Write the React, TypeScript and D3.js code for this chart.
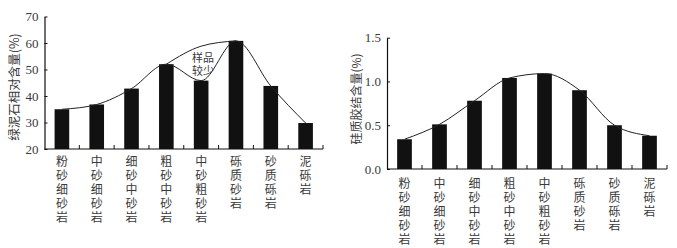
import { useRef, useEffect } from 'react'
import * as d3 from 'd3'

// categories (same for both panels)
const rockTypes = ['粉砂细砂岩', '中砂细砂岩', '细砂中砂岩', '粗砂中砂岩', '中砂粗砂岩', '砾质砂岩', '砂质砾岩', '泥砾岩']

// left panel: chlorite relative content (%)
const chloriteValues = [35, 36.8, 42.8, 52, 45.8, 60.8, 43.8, 29.8]
const chloriteTicks = [20, 30, 40, 50, 60, 70]
// upper trend branch that skips the under-sampled 中砂粗砂岩
const chloriteUpperCats = ['粗砂中砂岩', '中砂粗砂岩', '砾质砂岩']
const chloriteUpperValues = [52, 58.8, 60.8]

// right panel: siliceous cement content (%)
const silicaValues = [0.34, 0.51, 0.78, 1.04, 1.09, 0.9, 0.5, 0.38]
const silicaTicks = [0, 0.5, 1.0, 1.5]

const NUM_FONT = '"Liberation Serif", "Times New Roman", serif'
const CJK_FONT = '"Noto Sans CJK SC", sans-serif'
const TEXT = '#3a3a3a'

type PanelCfg = {
    values: number[]
    ticks: number[]
    domain: [number, number]
    xRange: [number, number]
    yRange: [number, number]
    fmt: (d: number) => string
    title: string
    titleX: number
    titleY: number
    titleSize: number
    labelTop: number
    branch?: { cats: string[]; values: number[] }
}

function drawPanel(root: d3.Selection<SVGGElement, unknown, null, undefined>, cfg: PanelCfg) {
    const x = d3.scaleBand().domain(rockTypes).range(cfg.xRange).padding(0)
    const y = d3.scaleLinear().domain(cfg.domain).range(cfg.yRange)
    const step = x.step()
    const barW = step * 0.42
    const y0 = cfg.yRange[0]

    // bars
    root.selectAll('.bar')
        .data(cfg.values)
        .enter()
        .append('rect')
        .attr('x', (d, i) => x(rockTypes[i])! + step / 2 - barW / 2)
        .attr('y', d => y(d))
        .attr('width', barW)
        .attr('height', d => y0 - y(d))
        .style('fill', '#111')

    // trend curve
    const line = d3.line<[number, number]>()
        .x(d => d[0])
        .y(d => d[1])
        .curve(d3.curveMonotoneX)

    const pts: [number, number][] = cfg.values.map((v, i) => [x(rockTypes[i])! + step / 2, y(v)])
    root.append('path')
        .attr('d', line(pts))
        .style('fill', 'none')
        .style('stroke', '#222')
        .style('stroke-width', 1)

    if (cfg.branch) {
        const bpts: [number, number][] = cfg.branch.values.map((v, i) => [x(cfg.branch!.cats[i])! + step / 2, y(v)])
        root.append('path')
            .attr('d', line(bpts))
            .style('fill', 'none')
            .style('stroke', '#222')
            .style('stroke-width', 1)
    }

    // x axis with upward ticks at band edges
    const xAxis = root.append('g')
    xAxis.append('line')
        .attr('x1', cfg.xRange[0]).attr('x2', cfg.xRange[1])
        .attr('y1', y0).attr('y2', y0)
        .style('stroke', '#111').style('stroke-width', 1.2)
    xAxis.selectAll('.xt')
        .data(rockTypes)
        .enter()
        .append('line')
        .attr('x1', d => x(d)! + step).attr('x2', d => x(d)! + step)
        .attr('y1', y0).attr('y2', y0 - 4)
        .style('stroke', '#111')

    // vertical category labels, one character per row
    rockTypes.forEach(name => {
        const cx = x(name)! + step / 2
        Array.from(name).forEach((ch, j) => {
            root.append('text')
                .attr('x', cx)
                .attr('y', cfg.labelTop + j * 14)
                .attr('text-anchor', 'middle')
                .attr('dominant-baseline', 'central')
                .style('font-family', CJK_FONT)
                .style('font-size', '12px')
                .style('fill', TEXT)
                .text(ch)
        })
    })

    // y axis
    const yAxis = root.append('g')
        .attr('transform', `translate(${cfg.xRange[0]},0)`)
        .call(d3.axisLeft(y).tickValues(cfg.ticks).tickSizeInner(-3).tickSizeOuter(0).tickPadding(6).tickFormat(d => cfg.fmt(+d)))
    yAxis.select('.domain').style('stroke', '#111').style('stroke-width', 1.2)
    yAxis.selectAll('.tick line').style('stroke', '#111')
    yAxis.selectAll('text')
        .style('fill', TEXT)
        .style('font-size', '13px')
        .style('font-family', NUM_FONT)

    // y title
    root.append('text')
        .attr('transform', `translate(${cfg.titleX},${cfg.titleY}) rotate(-90)`)
        .attr('text-anchor', 'middle')
        .attr('dominant-baseline', 'central')
        .style('font-family', CJK_FONT)
        .style('font-size', `${cfg.titleSize}px`)
        .style('fill', TEXT)
        .text(cfg.title)
}

export default function App() {
    const svgRef = useRef<SVGSVGElement | null>(null)

    useEffect(() => {
        if (!svgRef.current) return
        const svg = d3.select(svgRef.current)
        svg.selectAll('*').remove()

        const left = svg.append('g')
        drawPanel(left, {
            values: chloriteValues,
            ticks: chloriteTicks,
            domain: [20, 70],
            xRange: [44.5, 323],
            yRange: [149, 16.5],
            fmt: d => `${d}`,
            title: '绿泥石相对含量(%)',
            titleX: 13,
            titleY: 87,
            titleSize: 12.5,
            labelTop: 160.5,
            branch: { cats: chloriteUpperCats, values: chloriteUpperValues },
        })

        // annotation for the under-sampled group
        ;['样品', '较少'].forEach((t, i) => {
            left.append('text')
                .attr('x', 203)
                .attr('y', 57 + i * 13)
                .attr('text-anchor', 'middle')
                .attr('dominant-baseline', 'central')
                .style('font-family', CJK_FONT)
                .style('font-size', '11px')
                .style('fill', TEXT)
                .text(t)
        })

        const right = svg.append('g')
        drawPanel(right, {
            values: silicaValues,
            ticks: silicaTicks,
            domain: [0, 1.5],
            xRange: [387, 667],
            yRange: [169, 37.7],
            fmt: d => d.toFixed(1),
            title: '硅质胶结含量(%)',
            titleX: 355,
            titleY: 99,
            titleSize: 12,
            labelTop: 182,
        })
    }, [])

    return (
        <svg
            ref={svgRef}
            width={677}
            height={248}
            style={{ position: 'absolute', left: 0, top: 0, background: '#fff' }}
        />
    )
}
